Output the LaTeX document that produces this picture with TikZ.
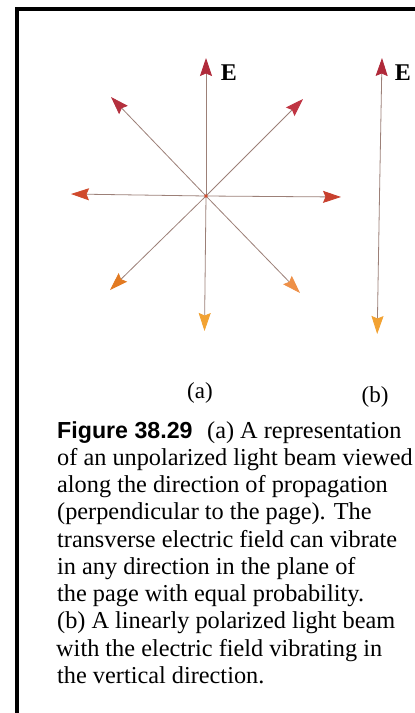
\documentclass[tikz,border=0pt]{standalone}
\usepackage{fontspec}
\setmainfont{Liberation Serif}
\newfontfamily\capsans{Liberation Sans}
\usetikzlibrary{arrows.meta}
\definecolor{shaft}{HTML}{9C8078}
\definecolor{cUp}{HTML}{B02A3A}
\definecolor{cUL}{HTML}{B4303E}
\definecolor{cUR}{HTML}{C03442}
\definecolor{cL}{HTML}{D04A2C}
\definecolor{cR}{HTML}{C8402E}
\definecolor{cDL}{HTML}{E27A22}
\definecolor{cDR}{HTML}{EE9048}
\definecolor{cD}{HTML}{F2A232}
\tikzset{
  vec/.style={draw=shaft, line width=0.8pt, -{Stealth[length=18pt,width=12pt,inset=2.5pt,color=#1,fill=#1]}},
  lbl/.style={inner sep=0pt, font=\fontsize{23}{25}\selectfont},
  Elbl/.style={inner sep=0pt, font=\fontsize{24}{26}\selectfont\bfseries},
  capline/.style={anchor=base west, inner sep=0pt, font=\fontsize{24.3}{27}\selectfont},
  frame/.style={line width=3.5pt, draw=black}
}
\begin{document}
\begin{tikzpicture}[x=1pt,y=-1pt]
\useasboundingbox[fill=white] (0,0) rectangle (415,713);
\draw[frame] (415,9) -- (17.2,9) -- (17.2,713);
% (a) star
\coordinate (o) at (206,196);
\coordinate (tU) at (206,58);
\coordinate (tD) at (204.5,331);
\coordinate (tL) at (71,194);
\coordinate (tR) at (341,197);
\coordinate (tUL) at (111,97);
\coordinate (tUR) at (303,99);
\coordinate (tDL) at (110,290);
\coordinate (tDR) at (300,293);
\draw[vec=cUp] (o) -- (tU);
\draw[vec=cD] (o) -- (tD);
\draw[vec=cL] (o) -- (tL);
\draw[vec=cR] (o) -- (tR);
\draw[vec=cUL] (o) -- (tUL);
\draw[vec=cUR] (o) -- (tUR);
\draw[vec=cDL] (o) -- (tDL);
\draw[vec=cDR] (o) -- (tDR);
\fill[cL] (o) circle (1.8);
\node[Elbl] (Ea) at (229,73) {E};
% (b)
\coordinate (bm) at (379.5,196);
\coordinate (bU) at (382,58);
\coordinate (bD) at (377.2,334);
\draw[vec=cUp] (bm) -- (bU);
\draw[vec=cD] (bm) -- (bD);
\node[Elbl] (Eb) at (403,73) {E};
% sub labels
\node[lbl] (la) at (200,393) {(a)};
\node[lbl] (lb) at (375,397) {(b)};
% caption
\node[capline] (c1a) at (57,438) {\capsans\bfseries\fontsize{23.2}{27}\selectfont Figure 38.29};
\node[capline] (c1) at (207,438) {(a) A representation};
\node[capline] (c2) at (57,465) {of an unpolarized light beam viewed};
\node[capline] (c3) at (57,492) {along the direction of propagation};
\node[capline] (c4) at (57,519) {(perpendicular to the page). The};
\node[capline] (c5) at (57,547) {transverse electric field can vibrate};
\node[capline] (c6) at (57,574) {in any direction in the plane of};
\node[capline] (c7) at (57,601) {the page with equal probability.};
\node[capline] (c8) at (57,628) {(b) A linearly polarized light beam};
\node[capline] (c9) at (56,656) {with the electric field vibrating in};
\node[capline] (c10) at (57,683) {the vertical direction.};
\end{tikzpicture}
\end{document}
